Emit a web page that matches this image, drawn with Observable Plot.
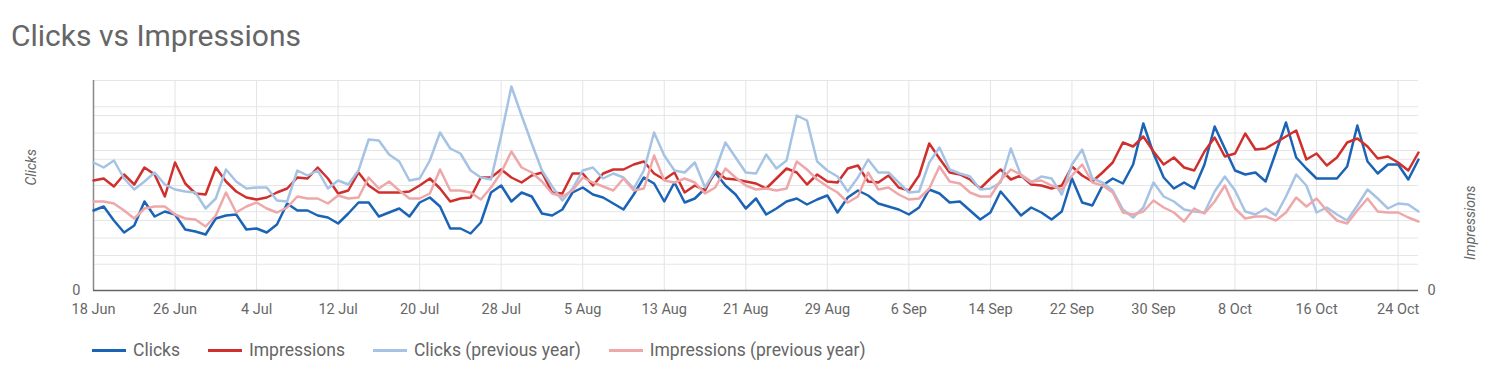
<!DOCTYPE html>
<html><head><meta charset="utf-8">
<script src="https://cdn.jsdelivr.net/npm/d3@7"></script>
<script src="https://cdn.jsdelivr.net/npm/@observablehq/plot@0.6"></script>
<style>
body{margin:0;background:#fff;font-family:Roboto,sans-serif;width:1494px;height:378px;position:relative;overflow:hidden}
#title{position:absolute;left:11px;top:21px;font-size:30px;line-height:30px;color:#666;white-space:nowrap}
#chart{position:absolute;left:0;top:70px}
#legend{position:absolute;left:92px;top:341px;display:flex;align-items:center;font-size:17.5px;line-height:18px;color:#666;white-space:nowrap}
.item{display:flex;align-items:center;margin-right:28px}
.sw{width:34px;height:3px;margin-right:7px}
</style></head>
<body>
<div id="title">Clicks vs Impressions</div>
<div id="chart"></div>
<div id="legend"></div>
<script>
// Daily values from 18 Jun to 26 Oct (unlabelled index scale, 0 at baseline)
const startDate = "2019-06-18";
const clicks = [80,84,70,58,65,89,74,79,76,61,59,56,72,75,76,61,62,58,66,87,80,80,75,
73,67,77,88,88,74,78,82,74,88,93,84,62,62,57,68,98,105,89,98,94,77,75,
81,98,103,96,93,87,81,96,113,107,89,108,88,92,102,118,105,96,82,92,76,82,89,
92,86,91,95,78,93,100,95,87,84,81,76,83,101,97,88,89,80,71,78,99,87,
75,83,78,71,79,112,88,85,105,112,107,126,167,137,113,102,108,102,126,164,142,120,116,
118,109,138,168,133,122,112,112,112,124,165,129,117,126,126,111,131];
const impressions = [110,112,104,116,106,123,116,94,128,107,97,96,123,109,99,93,91,93,98,102,113,112,123,
112,97,100,118,105,98,98,98,99,105,112,102,89,92,93,113,113,121,113,108,115,118,98,
97,117,117,105,117,121,121,126,129,117,111,118,98,105,100,120,112,111,109,107,102,112,122,
118,106,116,109,108,122,125,109,108,115,103,100,115,147,132,118,116,111,102,112,121,111,
115,106,105,102,105,124,115,109,118,128,148,144,154,139,126,133,123,120,139,153,134,137,157,
141,142,148,154,160,131,137,125,133,148,152,144,132,134,128,120,138];
const clicksPrev = [128,123,130,112,101,109,118,106,101,99,98,82,92,121,109,102,103,103,90,89,120,115,120,
102,110,106,120,151,150,136,129,110,112,130,158,142,137,120,113,111,155,204,175,147,120,104,
90,102,120,123,112,117,113,102,120,158,135,120,118,128,103,120,148,133,118,117,136,122,130,
175,170,129,120,114,99,113,131,118,118,108,98,99,128,143,121,117,114,101,102,108,142,
115,108,114,112,96,126,141,112,108,100,81,73,83,108,94,89,81,79,78,99,114,100,79,
76,82,75,94,116,105,78,83,76,70,85,101,92,82,87,86,79];
const impressionsPrev = [89,89,87,80,72,82,84,84,76,72,71,64,75,98,78,84,88,82,78,83,94,92,92,
87,95,92,93,113,102,109,100,92,92,97,121,100,100,98,91,103,118,139,123,118,109,97,
94,100,113,108,104,100,112,100,102,135,110,108,112,108,97,103,122,113,105,101,102,100,102,
129,121,111,104,98,88,94,118,101,103,96,91,92,102,124,109,107,98,94,94,110,121,
116,109,110,105,101,115,126,108,105,98,78,76,79,90,83,78,69,82,77,89,105,82,72,
74,74,70,78,93,84,92,80,70,67,80,92,79,78,78,73,69];
const seriesNames = ["Clicks","Impressions","Clicks (previous year)","Impressions (previous year)"];
const seriesColors = ["#1b63b5","#d0302d","#a6c3e4","#eea8aa"];
const tickLabels = ["18 Jun","26 Jun","4 Jul","12 Jul","20 Jul","28 Jul","5 Aug","13 Aug","21 Aug","29 Aug","6 Sep","14 Sep","22 Sep","30 Sep","8 Oct","16 Oct","24 Oct"];
const yMax = 210;
const clicksGrid = d3.range(1, 9).map(k => k * yMax / 8);
const impressionsGrid = d3.range(1, 7).map(k => k * yMax / 6);

const start = new Date(startDate);
const dates = clicks.map((_, i) => d3.utcDay.offset(start, i));
const tickDates = tickLabels.map((_, i) => dates[i * 8]);
const arrays = [clicks, impressions, clicksPrev, impressionsPrev];
const rows = seriesNames.flatMap((name, s) => arrays[s].map((v, i) => ({date: dates[i], value: v, series: name})));

const chart = Plot.plot({
  width: 1494, height: 250,
  marginTop: 10, marginBottom: 30, marginLeft: 93, marginRight: 76,
  style: {fontFamily: "Roboto, sans-serif", fontSize: "14px", color: "#666", background: "transparent"},
  x: {type: "utc", domain: [dates[0], dates[dates.length - 1]]},
  y: {domain: [0, yMax]},
  color: {domain: seriesNames, range: seriesColors},
  marks: [
    Plot.ruleY(clicksGrid, {stroke: "#e6e6e6"}),
    Plot.ruleY(impressionsGrid, {stroke: "#e6e6e6"}),
    Plot.gridX(tickDates, {stroke: "#e4e4e4", strokeOpacity: 1}),
    Plot.axisX(tickDates, {tickSize: 0, tickPadding: 13, fontSize: 14.5, label: null,
      tickFormat: d => tickLabels[tickDates.findIndex(t => +t === +d)]}),
    Plot.axisY([0], {anchor: "left", tickSize: 0, tickPadding: 13, label: null, fontSize: 14.5}),
    Plot.axisY([0], {anchor: "right", tickSize: 0, tickPadding: 9, label: null, fontSize: 14.5}),
    Plot.ruleX([dates[0]], {stroke: "#888", strokeWidth: 1.5}),
    Plot.ruleY([0], {stroke: "#666", strokeWidth: 1.5}),
    Plot.lineY(rows, {x: "date", y: "value", stroke: "series", z: "series", strokeWidth: 2.5}),
    Plot.text(["Clicks"], {text: d => d, frameAnchor: "left", dx: -62, rotate: -90, fontStyle: "italic", fontSize: 14, fill: "#666"}),
    Plot.text(["Impressions"], {text: d => d, frameAnchor: "right", dx: 52, rotate: -90, fontStyle: "italic", fontSize: 14, fill: "#666"})
  ]
});
document.getElementById("chart").appendChild(chart);

const legend = d3.select("#legend");
seriesNames.forEach((name, i) => {
  const item = legend.append("div").attr("class", "item");
  item.append("div").attr("class", "sw").style("background", seriesColors[i]);
  item.append("span").text(name);
});
</script>
</body></html>
